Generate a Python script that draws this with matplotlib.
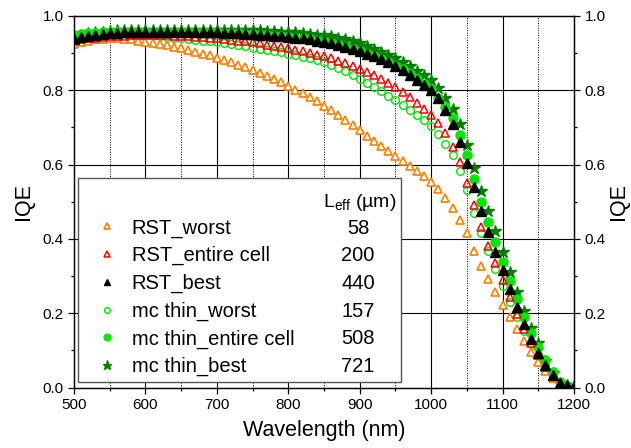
import numpy as np
import matplotlib
matplotlib.use("Agg")
import matplotlib.pyplot as plt
from matplotlib.patches import Rectangle
from matplotlib.ticker import MultipleLocator

plt.rcParams['font.family'] = ['Liberation Sans', 'DejaVu Sans']

wavelength = list(range(500, 1201, 10))

rst_worst = [0.925, 0.930, 0.934, 0.937, 0.939, 0.940, 0.940, 0.939, 0.937, 0.934,
             0.931, 0.928, 0.925, 0.921, 0.917, 0.913, 0.909, 0.904, 0.899, 0.894,
             0.888, 0.882, 0.876, 0.869, 0.862, 0.855, 0.847, 0.839, 0.830, 0.821,
             0.812, 0.802, 0.792, 0.781, 0.770, 0.758, 0.746, 0.733, 0.720, 0.706,
             0.692, 0.678, 0.664, 0.650, 0.636, 0.622, 0.609, 0.596, 0.583, 0.569,
             0.552, 0.533, 0.510, 0.484, 0.452, 0.415, 0.368, 0.327, 0.293, 0.258,
             0.222, 0.190, 0.157, 0.125, 0.095, 0.068, 0.045, 0.025, 0.008, 0.002,
             0.000]

rst_entire = [0.935, 0.938, 0.940, 0.942, 0.944, 0.945, 0.946, 0.947, 0.948, 0.948,
              0.948, 0.948, 0.948, 0.948, 0.947, 0.946, 0.945, 0.944, 0.943, 0.941,
              0.940, 0.938, 0.936, 0.934, 0.932, 0.929, 0.926, 0.923, 0.920, 0.917,
              0.913, 0.909, 0.905, 0.900, 0.896, 0.891, 0.886, 0.880, 0.873, 0.866,
              0.858, 0.850, 0.841, 0.831, 0.820, 0.808, 0.795, 0.781, 0.766, 0.750,
              0.733, 0.712, 0.686, 0.648, 0.606, 0.550, 0.490, 0.432, 0.380, 0.335,
              0.290, 0.243, 0.197, 0.158, 0.120, 0.087, 0.055, 0.030, 0.010, 0.003,
              0.000]

rst_best = [0.938, 0.943, 0.947, 0.950, 0.952, 0.954, 0.955, 0.956, 0.957, 0.957,
            0.958, 0.958, 0.958, 0.958, 0.958, 0.958, 0.958, 0.957, 0.957, 0.956,
            0.956, 0.955, 0.954, 0.953, 0.952, 0.951, 0.950, 0.949, 0.947, 0.946,
            0.944, 0.942, 0.940, 0.937, 0.934, 0.930, 0.926, 0.921, 0.916, 0.911,
            0.906, 0.899, 0.892, 0.884, 0.875, 0.865, 0.854, 0.842, 0.829, 0.815,
            0.800, 0.778, 0.747, 0.708, 0.662, 0.605, 0.540, 0.474, 0.418, 0.365,
            0.315, 0.265, 0.217, 0.170, 0.130, 0.093, 0.060, 0.033, 0.012, 0.006,
            0.003]

mc_worst = [0.950, 0.952, 0.953, 0.954, 0.954, 0.954, 0.954, 0.953, 0.952, 0.951,
            0.950, 0.948, 0.946, 0.944, 0.942, 0.940, 0.938, 0.936, 0.934, 0.932,
            0.930, 0.927, 0.924, 0.921, 0.918, 0.915, 0.912, 0.909, 0.905, 0.902,
            0.898, 0.894, 0.890, 0.886, 0.881, 0.876, 0.868, 0.860, 0.851, 0.841,
            0.831, 0.820, 0.808, 0.797, 0.785, 0.773, 0.761, 0.748, 0.734, 0.720,
            0.705, 0.683, 0.655, 0.625, 0.583, 0.532, 0.470, 0.416, 0.367, 0.320,
            0.273, 0.230, 0.190, 0.152, 0.117, 0.088, 0.060, 0.032, 0.012, 0.003,
            0.000]

mc_entire = [0.948, 0.951, 0.953, 0.955, 0.956, 0.957, 0.958, 0.958, 0.958, 0.958,
             0.958, 0.958, 0.958, 0.958, 0.958, 0.958, 0.958, 0.957, 0.957, 0.956,
             0.956, 0.955, 0.954, 0.953, 0.952, 0.951, 0.950, 0.949, 0.947, 0.946,
             0.944, 0.942, 0.940, 0.937, 0.934, 0.930, 0.926, 0.921, 0.916, 0.911,
             0.906, 0.899, 0.892, 0.884, 0.876, 0.866, 0.856, 0.844, 0.831, 0.818,
             0.803, 0.780, 0.755, 0.725, 0.680, 0.626, 0.561, 0.500, 0.445, 0.392,
             0.338, 0.287, 0.238, 0.190, 0.146, 0.109, 0.074, 0.042, 0.016, 0.005,
             0.002]

mc_best = [0.945, 0.950, 0.953, 0.956, 0.958, 0.960, 0.961, 0.961, 0.962, 0.962,
           0.962, 0.962, 0.962, 0.962, 0.962, 0.962, 0.962, 0.962, 0.962, 0.962,
           0.962, 0.962, 0.962, 0.962, 0.962, 0.962, 0.961, 0.960, 0.959, 0.958,
           0.957, 0.956, 0.954, 0.952, 0.950, 0.948, 0.945, 0.941, 0.937, 0.932,
           0.926, 0.920, 0.912, 0.904, 0.895, 0.886, 0.876, 0.865, 0.853, 0.840,
           0.827, 0.805, 0.780, 0.750, 0.708, 0.654, 0.592, 0.530, 0.475, 0.420,
           0.365, 0.310, 0.258, 0.206, 0.160, 0.120, 0.070, 0.038, 0.012, 0.006,
           0.003]

leff = ["58", "200", "440", "157", "508", "721"]
names = ["RST_worst", "RST_entire cell", "RST_best",
         "mc thin_worst", "mc thin_entire cell", "mc thin_best"]

W, H = 631, 448
fig = plt.figure(figsize=(W / 100, H / 100), dpi=100)
ax = fig.add_axes([74 / W, 1 - 387.5 / H, 500 / W, 371.5 / H])

# grid
for xv in range(600, 1200, 100):
    ax.axvline(xv, color='black', lw=0.8, zorder=0)
for xv in range(550, 1200, 100):
    ax.axvline(xv, color='black', lw=0.7, ls=(0, (1, 1.5)), zorder=0)
for yv in [0.2, 0.4, 0.6, 0.8]:
    ax.axhline(yv, color='black', lw=0.8, zorder=0)

x = np.array(wavelength)
h_mc_best, = ax.plot(x, mc_best, ls='none', marker='*', ms=9, color='#007F00', mec='#007F00', zorder=2)
h_mc_entire, = ax.plot(x, mc_entire, ls='none', marker='o', ms=6.5, color='#00E800', mec='#00E800', zorder=2.1)
h_mc_worst, = ax.plot(x, mc_worst, ls='none', marker='o', ms=5.5, mfc='none', mec='#00E800', mew=1.0, zorder=2.2)
h_rst_worst, = ax.plot(x, rst_worst, ls='none', marker='^', ms=6, mfc='white', mec='#FF8000', mew=1.2, zorder=2.3)
h_rst_entire, = ax.plot(x, rst_entire, ls='none', marker='^', ms=6, mfc='none', mec='#FF0000', mew=1.1, zorder=2.4)
h_rst_best, = ax.plot(x, rst_best, ls='none', marker='^', ms=6.5, color='black', mec='black', zorder=2.5)

ax.set_xlim(500, 1200)
ax.set_ylim(0, 1.0)
ax.xaxis.set_major_locator(MultipleLocator(100))
ax.xaxis.set_minor_locator(MultipleLocator(50))
ax.yaxis.set_major_locator(MultipleLocator(0.2))
ax.yaxis.set_minor_locator(MultipleLocator(0.1))
ax.yaxis.set_major_formatter(matplotlib.ticker.FormatStrFormatter('%.1f'))
ax.tick_params(which='major', direction='out', length=4, width=0.9, labelsize=11)
ax.tick_params(which='minor', direction='out', length=2.5, width=0.9)
ax.tick_params(axis='y', which='both', right=False)
ax.set_xlabel('Wavelength (nm)', fontsize=15.5, labelpad=6)
ax.set_ylabel('IQE', fontsize=15.5, labelpad=6)
for s in ax.spines.values():
    s.set_linewidth(0.9)

ax2 = ax.twinx()
ax2.set_ylim(0, 1.0)
ax2.yaxis.set_major_locator(MultipleLocator(0.2))
ax2.yaxis.set_minor_locator(MultipleLocator(0.1))
ax2.yaxis.set_major_formatter(matplotlib.ticker.FormatStrFormatter('%.1f'))
ax2.tick_params(which='major', direction='out', length=4, width=0.9, labelsize=11)
ax2.tick_params(which='minor', direction='out', length=2.5, width=0.9)
ax2.set_ylabel('IQE', fontsize=15.5, labelpad=2)
for s in ax2.spines.values():
    s.set_linewidth(0.9)

# legend box
ax.add_patch(Rectangle((0.008, 0.015), 0.646, 0.548, transform=ax.transAxes,
                       facecolor='white', edgecolor='#555555', lw=1.0, zorder=5))

handles = [h_rst_worst, h_rst_entire, h_rst_best, h_mc_worst, h_mc_entire, h_mc_best]
leg = ax.legend(handles, names, loc='upper left', bbox_to_anchor=(0.045, 0.455),
                frameon=False, fontsize=14.5, markerscale=0.75, handlelength=1.0,
                handletextpad=0.75, labelspacing=0.42, borderpad=0.0, borderaxespad=0.0)
leg.set_zorder(6)

fig.canvas.draw()
inv = ax.transAxes.inverted()
for t, num in zip(leg.get_texts(), leff):
    bb = t.get_window_extent()
    yc = inv.transform(((bb.x0 + bb.x1) / 2, (bb.y0 + bb.y1) / 2))[1]
    ax.text(0.568, yc, num, transform=ax.transAxes, ha='center', va='center',
            fontsize=14.5, zorder=7)
ax.text(0.645, 0.497, r'L$_{\mathregular{eff}}$ (µm)', transform=ax.transAxes,
        ha='right', va='center', fontsize=14, zorder=7)

fig.savefig('out.png', dpi=100)
